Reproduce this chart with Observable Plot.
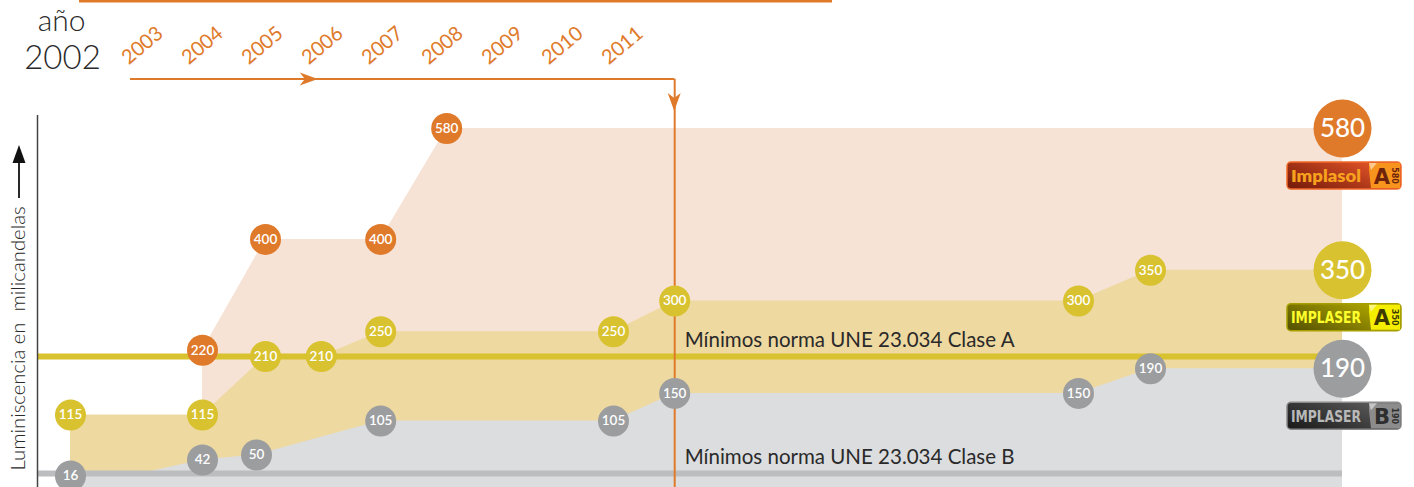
<!DOCTYPE html>
<html><head><meta charset="utf-8">
<script src="https://cdn.jsdelivr.net/npm/d3@7"></script>
<script src="https://cdn.jsdelivr.net/npm/@observablehq/plot@0.6"></script>
<style>body{margin:0;background:#fff} svg{display:block}</style>
</head><body><div id="chart"></div>
<script>
// ---- DATA (timeline position, luminance in mcd) ----
const years = [2003, 2004, 2005, 2006, 2007, 2008, 2009, 2010, 2011];

// area outlines
const orangePos = [2004, 2005.05, 2006.97, 2008.07, 2023];
const orangeVal = [220, 400, 400, 580, 580];
const yellowPos = [2001.8, 2004, 2005.05, 2005.98, 2006.97, 2010.85, 2011.87, 2018.6, 2019.8, 2023];
const yellowVal = [115, 115, 210, 210, 250, 250, 300, 300, 350, 350];
const grayPos   = [2001.8, 2002.8, 2004, 2004.9, 2006.97, 2010.85, 2011.87, 2018.6, 2019.8, 2023];
const grayVal   = [16, 16, 42, 50, 105, 105, 150, 150, 190, 190];

// labelled points
const orangeDotPos = [2004, 2005.05, 2006.97, 2008.07];
const orangeDotVal = [220, 400, 400, 580];
const yellowDotPos = [2001.8, 2004, 2005.05, 2005.98, 2006.97, 2010.85, 2011.87, 2018.6, 2019.8];
const yellowDotVal = [115, 115, 210, 210, 250, 250, 300, 300, 350];
const grayDotPos   = [2001.8, 2004, 2004.9, 2006.97, 2010.85, 2011.87, 2018.6, 2019.8];
const grayDotVal   = [16, 42, 50, 105, 105, 150, 150, 190];

// norms
const normA = 210, normB = 20;
const normALabel = "Mínimos norma UNE 23.034 Clase A";
const normBLabel = "Mínimos norma UNE 23.034 Clase B";

// summary on the right
const finalValues = [580, 350, 190];
const productNames = ["Implasol", "IMPLASER", "IMPLASER"];
const productClasses = ["A", "A", "B"];

const axisPos = 2001.25, endPos = 2023, markerPos = 2011.87, timelineStart = 2002.8;

// ---- STYLE ----
const C = {
  orange: "#e07a2b", yellow: "#d9c22f", gray: "#9b9d9f",
  orangeA: "#f6e3d6", yellowA: "#eed9a1", grayA: "#dcdddf",
  normA: "#d9c22f", normB: "#bcbdbf", text: "#2a2a2a"
};
const FONT = "Lato, 'Open Sans', sans-serif";
const mk = (pos, val) => pos.map((t, i) => ({t, v: val[i]}));

const orangeArea = mk(orangePos, orangeVal);
const yellowArea = mk(yellowPos, yellowVal);
const grayArea = mk(grayPos, grayVal);
const orangeDots = mk(orangeDotPos, orangeDotVal);
const yellowDots = mk(yellowDotPos, yellowDotVal);
const grayDots = mk(grayDotPos, grayDotVal);
const finals = finalValues.map((v, i) => ({t: endPos, v, color: [C.orange, C.yellow, C.gray][i]}));

const dotMarks = (data, color) => [
  Plot.dot(data, {x: "t", y: "v", r: 15.5, fill: color}),
  Plot.text(data, {x: "t", y: "v", text: d => String(d.v), fill: "white", fontSize: 13.5, fontWeight: 600})
];

const plot = Plot.plot({
  width: 1414, height: 487, margin: 0,
  x: {domain: [2000, 2025], range: [-38, 1462], axis: null},
  y: {domain: [0, 600], range: [485.3, 115.7], axis: null},
  style: {fontFamily: FONT, background: "white", overflow: "visible"},
  marks: [
    Plot.areaY(orangeArea, {x: "t", y1: -4, y2: "v", fill: C.orangeA}),
    Plot.areaY(yellowArea, {x: "t", y1: -4, y2: "v", fill: C.yellowA}),
    Plot.areaY(grayArea, {x: "t", y1: -4, y2: "v", fill: C.grayA}),
    Plot.ruleY([normA], {x1: axisPos, x2: endPos, stroke: C.normA, strokeWidth: 6}),
    Plot.ruleY([normB], {x1: axisPos, x2: endPos, stroke: C.normB, strokeWidth: 6}),
    Plot.ruleX([axisPos], {y1: -4, y2: 601, stroke: "#444", strokeWidth: 1.5}),
    Plot.ruleX([markerPos], {y1: -4, y2: 660, stroke: C.orange, strokeWidth: 2}),
    Plot.text([normALabel], {x: markerPos, y: normA, dx: 10, dy: -16, textAnchor: "start", fontSize: 20.5, fill: C.text}),
    Plot.text([normBLabel], {x: markerPos, y: normB, dx: 10, dy: -16, textAnchor: "start", fontSize: 20.5, fill: C.text}),
    ...dotMarks(grayDots, C.gray),
    ...dotMarks(yellowDots, C.yellow),
    ...dotMarks(orangeDots, C.orange),
    Plot.dot(finals, {x: "t", y: "v", r: 29, fill: "color"}),
    Plot.text(finals, {x: "t", y: "v", text: d => String(d.v), fill: "white", fontSize: 26, fontWeight: 500}),
    Plot.text(years, {x: d => d, text: d => String(d), frameAnchor: "top", dy: 45, lineAnchor: "middle", textAnchor: "middle", rotate: -40, fill: C.orange, fontSize: 20}),
    Plot.text(["año"], {frameAnchor: "top-left", dx: 61, dy: 21, textAnchor: "middle", lineAnchor: "middle", fontSize: 30, fontWeight: 300, fill: C.text}),
    Plot.text(["2002"], {frameAnchor: "top-left", dx: 62, dy: 58, textAnchor: "middle", lineAnchor: "middle", fontSize: 33, fontWeight: 300, fill: C.text}),
    Plot.text(["Luminiscencia en  milicandelas"], {frameAnchor: "bottom-left", dx: 18, dy: -17, rotate: -90, textAnchor: "start", lineAnchor: "middle", fontSize: 20.3, fontWeight: 300, fill: C.text})
  ]
});
document.getElementById("chart").appendChild(plot);

// ---- decorations using the plot's scales ----
const xs = plot.scale("x"), ys = plot.scale("y");
const X = t => xs.apply(t), Y = v => ys.apply(v);
const svg = d3.select(plot);
const g = svg.append("g").attr("text-anchor", "start");

// top orange rule
g.append("rect").attr("x", X(2001.95)).attr("y", 0).attr("width", X(2014.5) - X(2001.95)).attr("height", 2.5).attr("fill", C.orange);
// timeline
const tlY = 79;
g.append("path").attr("d", `M${X(timelineStart)},${tlY}H${X(markerPos)}`).attr("stroke", C.orange).attr("stroke-width", 2).attr("fill", "none");
const ax = X(2005.93);
g.append("path").attr("d", `M${ax - 18},${tlY - 6.5}L${ax},${tlY}L${ax - 18},${tlY + 6.5}L${ax - 13},${tlY}Z`).attr("fill", C.orange);
const mx = X(markerPos);
g.append("path").attr("d", `M${mx - 6.5},${tlY + 14}L${mx},${tlY + 32}L${mx + 6.5},${tlY + 14}L${mx},${tlY + 19}Z`).attr("fill", C.orange);
// y-label arrow
g.append("path").attr("d", "M19,198V160").attr("stroke", "#111").attr("stroke-width", 1.8);
g.append("path").attr("d", "M12.5,163L19,145L25.5,163Z").attr("fill", "#111");

// badges
const defs = svg.append("defs");
const badgeStyles = [
  {g0: "#7a1d0c", g1: "#ec5a2a", border: "#f26a2a", text: "#f7a21e", tab: "#f7941d", letter: "#6e230c", num: "#6e230c", font: "Lato", weight: 800},
  {g0: "#5a5600", g1: "#b8ae00", border: "#a79f00", text: "#ffff2e", tab: "#f5ee00", letter: "#3f3b00", num: "#3f3b00", font: "'DejaVu Sans Condensed', 'DejaVu Sans'", weight: 700},
  {g0: "#1e1e1e", g1: "#606060", border: "#8a8a8a", text: "#b9b9b9", tab: "#8c8c8c", letter: "#2e2e2e", num: "#2e2e2e", font: "'DejaVu Sans Condensed', 'DejaVu Sans'", weight: 700}
];
finalValues.forEach((v, i) => {
  const s = badgeStyles[i];
  const id = "bg" + i;
  const lg = defs.append("linearGradient").attr("id", id).attr("x1", 0).attr("y1", 0.8).attr("x2", 1).attr("y2", 0.2);
  lg.append("stop").attr("offset", 0).attr("stop-color", s.g0);
  lg.append("stop").attr("offset", 1).attr("stop-color", s.g1);
  const cy = Y(v) + 47.5, x0 = 1287, w = 114, h = 27, y0 = cy - h / 2;
  const b = g.append("g");
  b.append("rect").attr("x", x0).attr("y", y0).attr("width", w).attr("height", h).attr("rx", 4).attr("fill", `url(#${id})`).attr("stroke", s.border).attr("stroke-width", 1.5);
  b.append("path").attr("d", `M${x0 + 82},${y0 + 1}L${x0 + w - 1},${y0 + 1}L${x0 + w - 1},${y0 + h - 1}L${x0 + 84},${y0 + h - 1}L${x0 + 82},${y0 + 8}Z`).attr("fill", s.tab);
  b.append("path").attr("d", `M${x0 + 82},${y0 + 1}L${x0 + 90},${y0 + 1}L${x0 + 84},${y0 + 8}Z`).attr("fill", "#ffffff").attr("opacity", 0.5);
  b.append("text").attr("x", x0 + 4).attr("y", cy + 6).attr("text-anchor", "start").attr("textLength", 70).attr("lengthAdjust", "spacingAndGlyphs")
    .attr("font-family", s.font).attr("font-weight", s.weight).attr("font-size", i === 0 ? 17 : 15).attr("fill", s.text).text(productNames[i]);
  b.append("text").attr("x", x0 + 95).attr("y", cy + 8).attr("text-anchor", "middle")
    .attr("font-family", "'DejaVu Sans'").attr("font-weight", 800).attr("font-size", 21).attr("fill", s.letter).text(productClasses[i]);
  b.append("text").attr("transform", `translate(${x0 + 108},${cy}) rotate(90)`).attr("text-anchor", "middle").attr("dy", "0.35em")
    .attr("font-family", "'DejaVu Sans'").attr("font-weight", 700).attr("font-size", 8).attr("fill", s.num).text(String(v));
});
</script>
</body></html>
